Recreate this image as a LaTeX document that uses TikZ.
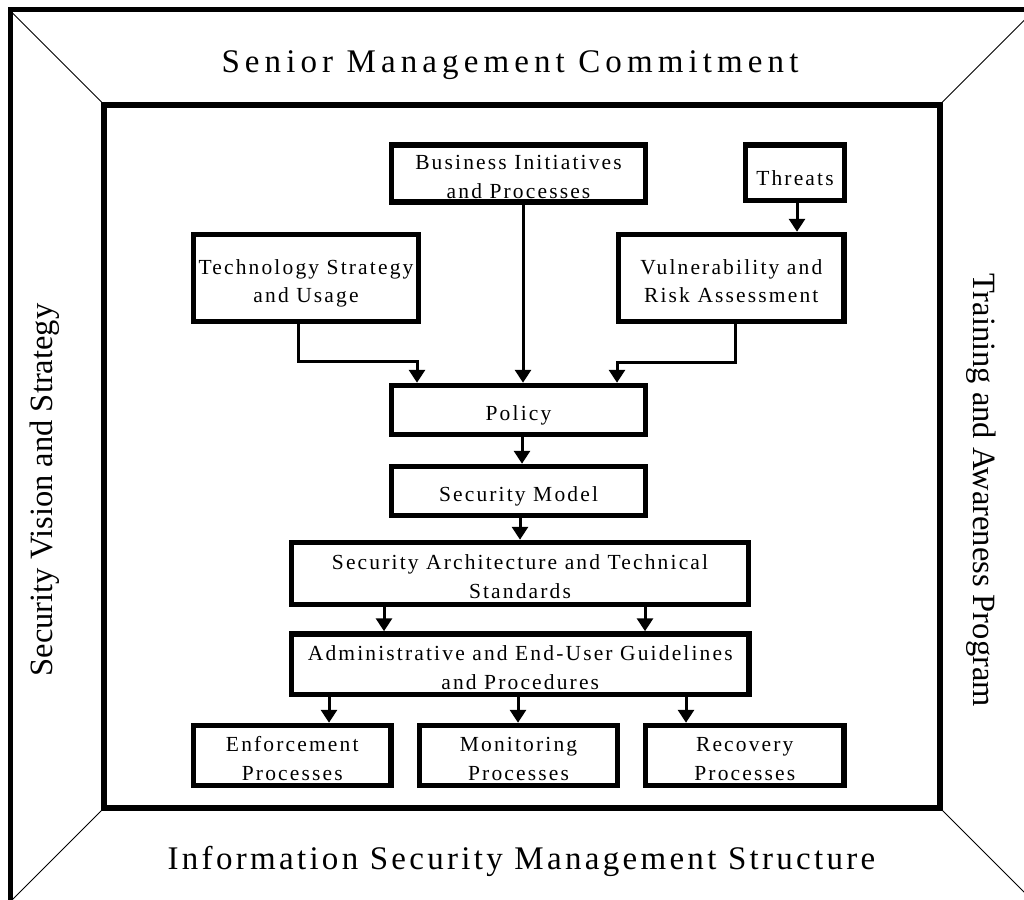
\documentclass[tikz,border=0pt]{standalone}
\usepackage{fontspec}
\setmainfont{Liberation Serif}
\newfontfamily\spacedfont[LetterSpace=10]{Liberation Serif}
\newfontfamily\widefont[LetterSpace=15.5]{Liberation Serif}
\usetikzlibrary{arrows.meta}
\newcommand{\twoline}[2]{\raisebox{-5pt}[\height][\depth]{\begin{tabular}{@{}c@{}}#1\\#2\end{tabular}}}
\begin{document}
\begin{tikzpicture}[x=1pt,y=-1pt,
  box/.style={draw, line width=5.5pt, align=center, inner sep=0pt,
    font=\spacedfont\fontsize{21.5}{28.5}\selectfont},
  onebox/.style={box, execute at begin node={\rule{0pt}{25pt}}},
  conn/.style={line width=3pt, -{Triangle[length=13pt,width=16pt]}},
  framepart/.style={line width=5pt},
  diag/.style={line width=1pt},
  big/.style={font=\spacedfont\fontsize{33}{36}\selectfont, inner sep=0pt},
  side/.style={font=\fontsize{32.5}{36}\selectfont, inner sep=0pt}]
\useasboundingbox (0,0) rectangle (1024,899);
\begin{scope}
  \clip (0,0) rectangle (1024,899);
  \draw[framepart] (10,910) -- (10,9.5) -- (1040,9.5);
  \draw[diag] (10,10.5) -- (104,104.5);
  \draw[diag] (940,104.5) -- (1035,9.5);
  \draw[diag] (104,808) -- (10,902);
  \draw[diag] (940,808) -- (1035,903);
\end{scope}
\draw[line width=6pt] (104,104.5) rectangle (940,808);

% titles
\node[big, font=\widefont\fontsize{33}{36}\selectfont, anchor=base] (senior) at (510,72) {Senior Management Commitment};
\node[big, anchor=base] (ism) at (521.5,869) {Information Security Management Structure};
\node[side, rotate=90, anchor=base] (svs) at (52,490) {Security Vision and Strategy};
\node[side, rotate=-90, anchor=base] (tap) at (973,490) {Training and Awareness Program};

% boxes
\node[box, minimum width=254pt, minimum height=55.5pt] (biz) at (518.5,173.25) {\twoline{Business Initiatives}{and Processes}};
\node[onebox, minimum width=99pt, minimum height=55.5pt] (threats) at (795,172.75) {Threats};
\node[box, minimum width=225pt, minimum height=87pt] (tech) at (306,278) {\twoline{Technology Strategy}{and Usage}};
\node[box, minimum width=225.5pt, minimum height=87pt] (vuln) at (731.25,278) {\twoline{Vulnerability and}{Risk Assessment}};
\node[onebox, minimum width=254pt, minimum height=49pt] (policy) at (518.5,410) {Policy};
\node[onebox, minimum width=254pt, minimum height=49pt] (model) at (518.5,491) {Security Model};
\node[box, minimum width=457pt, minimum height=62pt] (arch) at (520,573.5) {\twoline{Security Architecture and Technical}{Standards}};
\node[box, minimum width=457.5pt, minimum height=60.5pt] (admin) at (520.25,664.25) {\twoline{Administrative and End-User Guidelines}{and Procedures}};
\node[box, minimum width=197.5pt, minimum height=60pt] (enf) at (292.25,755.5) {\twoline{Enforcement}{Processes}};
\node[box, minimum width=198pt, minimum height=60pt] (mon) at (518.5,755.5) {\twoline{Monitoring}{Processes}};
\node[box, minimum width=198.5pt, minimum height=60pt] (rec) at (744.75,755.5) {\twoline{Recovery}{Processes}};

% connector columns
\coordinate (cb) at (523,0);
\coordinate (ct) at (797,0);
\coordinate (cp) at (522,0);
\coordinate (cm) at (520,0);
\coordinate (ca1) at (384,0);
\coordinate (ca2) at (645,0);
\coordinate (ae) at (329,0);
\coordinate (am) at (518,0);
\coordinate (ar) at (686,0);
\coordinate (tk) at (417,361);
\coordinate (vk) at (617,362);

% connectors
\draw[conn] (biz.south -| cb) -- (policy.north -| cb);
\draw[conn] (threats.south -| ct) -- (vuln.north -| ct);
\draw[conn] ([xshift=-8pt]tech.south) |- (tk) -- (tk |- policy.north);
\draw[conn] ([xshift=3.75pt]vuln.south) |- (vk) -- (vk |- policy.north);
\draw[conn] (policy.south -| cp) -- (model.north -| cp);
\draw[conn] (model.south -| cm) -- (arch.north -| cm);
\draw[conn] (arch.south -| ca1) -- (admin.north -| ca1);
\draw[conn] (arch.south -| ca2) -- (admin.north -| ca2);
\draw[conn] (admin.south -| ae) -- (enf.north -| ae);
\draw[conn] (admin.south -| am) -- (mon.north -| am);
\draw[conn] (admin.south -| ar) -- (rec.north -| ar);
\end{tikzpicture}
\end{document}
